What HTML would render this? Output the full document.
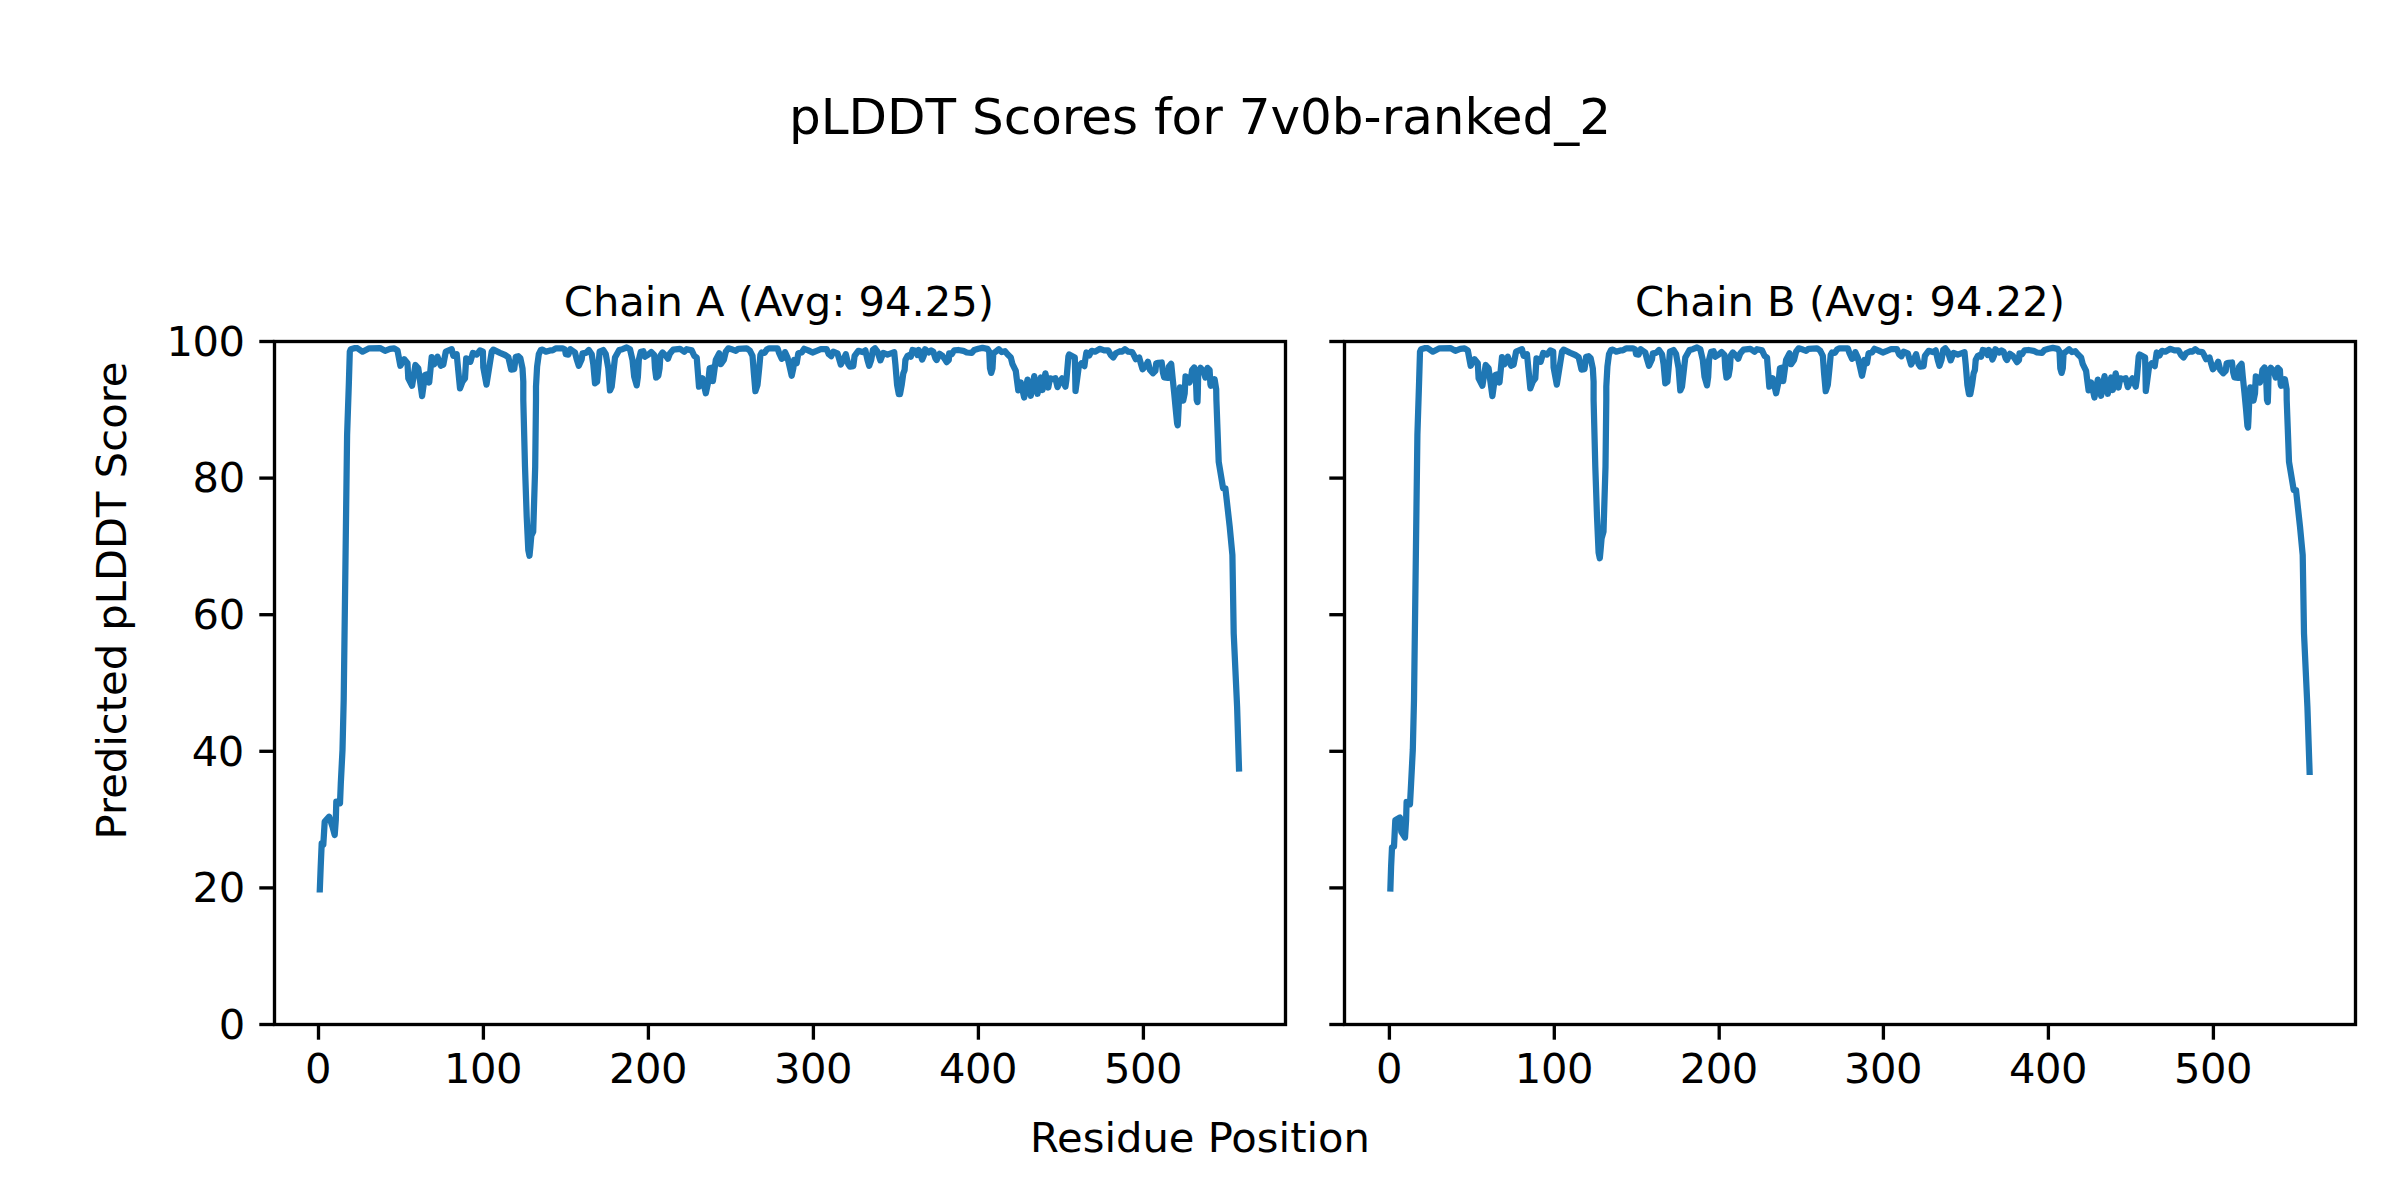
<!DOCTYPE html>
<html lang="en"><head><meta charset="utf-8"><title>pLDDT Scores for 7v0b-ranked_2</title>
<style>
html,body{margin:0;padding:0;background:#fff;}
body{width:2400px;height:1200px;overflow:hidden;}
svg{display:block;}
text{font-family:"DejaVu Sans","Liberation Sans",sans-serif;fill:#000;}
.t10{font-size:41.667px;}
.t12{font-size:50px;}
.tl{letter-spacing:-0.45px;}
.sp{fill:none;stroke:#000;stroke-width:3.333;stroke-linecap:square;stroke-linejoin:miter;}
.tk{stroke:#000;stroke-width:3.333;stroke-linecap:butt;}
.ln{fill:none;stroke:#1f77b4;stroke-width:6.25;stroke-linecap:butt;stroke-linejoin:round;}
</style></head><body>
<svg width="2400" height="1200" viewBox="0 0 2400 1200">
<rect x="0" y="0" width="2400" height="1200" fill="#ffffff"/>
<text class="t12" x="1200" y="134.0" text-anchor="middle">pLDDT Scores for 7v0b-ranked_2</text>
<text class="t10" x="1200" y="1152.0" text-anchor="middle">Residue Position</text>
<text class="t10" transform="translate(126.3,600.5) rotate(-90)" text-anchor="middle">Predicted pLDDT Score</text>
<g>
<text class="t10" x="778.9" y="316.3" text-anchor="middle">Chain A (Avg: 94.25)</text>
<line class="tk" x1="318.50" y1="1024.50" x2="318.50" y2="1039.70"/><text class="t10 tl" x="318.15" y="1083.3" text-anchor="middle">0</text>
<line class="tk" x1="483.40" y1="1024.50" x2="483.40" y2="1039.70"/><text class="t10 tl" x="483.05" y="1083.3" text-anchor="middle">100</text>
<line class="tk" x1="648.40" y1="1024.50" x2="648.40" y2="1039.70"/><text class="t10 tl" x="648.05" y="1083.3" text-anchor="middle">200</text>
<line class="tk" x1="813.40" y1="1024.50" x2="813.40" y2="1039.70"/><text class="t10 tl" x="813.05" y="1083.3" text-anchor="middle">300</text>
<line class="tk" x1="978.40" y1="1024.50" x2="978.40" y2="1039.70"/><text class="t10 tl" x="978.05" y="1083.3" text-anchor="middle">400</text>
<line class="tk" x1="1143.40" y1="1024.50" x2="1143.40" y2="1039.70"/><text class="t10 tl" x="1143.05" y="1083.3" text-anchor="middle">500</text>
<line class="tk" x1="259.30" y1="1024.50" x2="274.50" y2="1024.50"/><text class="t10 tl" x="244.70" y="1038.8" text-anchor="end">0</text>
<line class="tk" x1="259.30" y1="887.90" x2="274.50" y2="887.90"/><text class="t10 tl" x="244.70" y="902.2" text-anchor="end">20</text>
<line class="tk" x1="259.30" y1="751.30" x2="274.50" y2="751.30"/><text class="t10 tl" x="243.80" y="765.6" text-anchor="end">40</text>
<line class="tk" x1="259.30" y1="614.70" x2="274.50" y2="614.70"/><text class="t10 tl" x="244.70" y="629.0" text-anchor="end">60</text>
<line class="tk" x1="259.30" y1="478.10" x2="274.50" y2="478.10"/><text class="t10 tl" x="244.70" y="492.4" text-anchor="end">80</text>
<line class="tk" x1="259.30" y1="341.50" x2="274.50" y2="341.50"/><text class="t10 tl" x="244.70" y="355.8" text-anchor="end">100</text>
<path class="ln" d="M319.7 892.5 L320.7 866.7 L321.7 843.3 L323.3 844.7 L324.7 821.7 L329.2 816.7 L332.5 826.7 L334.7 835.0 L335.8 820.0 L336.3 801.7 L340.0 803.3 L340.8 783.3 L342.5 750.0 L343.7 700.0 L347.1 435.0 L348.8 385.0 L349.8 351.7 L350.8 349.2 L354.2 348.2 L357.5 348.2 L362.5 351.7 L369.2 348.3 L380.0 348.1 L385.0 350.8 L390.0 348.8 L394.2 348.3 L397.5 350.4 L400.4 365.8 L404.2 359.2 L407.5 363.3 L408.3 378.3 L412.1 385.8 L415.4 365.0 L418.3 368.3 L422.1 396.2 L425.0 375.0 L427.5 374.2 L429.2 382.5 L431.7 357.1 L434.2 364.2 L437.5 356.7 L440.8 365.8 L443.3 364.6 L445.8 351.7 L451.7 349.2 L453.3 355.8 L456.7 354.2 L460.0 388.3 L462.5 381.7 L465.0 378.3 L466.2 358.3 L470.4 361.7 L472.9 352.9 L476.7 354.6 L480.0 350.4 L482.9 351.7 L483.3 367.5 L486.5 384.6 L491.7 351.7 L493.3 349.6 L500.0 352.9 L505.0 355.0 L508.3 357.1 L509.6 362.5 L511.2 369.6 L514.2 369.2 L515.8 356.7 L518.3 356.2 L520.4 358.3 L522.5 368.3 L523.3 381.7 L523.3 400.0 L525.0 466.7 L526.7 516.7 L528.3 550.0 L529.5 555.8 L530.3 547.5 L531.3 535.8 L533.2 531.7 L535.2 466.7 L536.0 400.0 L536.0 386.7 L537.1 366.7 L538.8 354.2 L540.8 350.0 L542.5 349.6 L545.8 351.7 L550.0 350.4 L552.5 350.4 L555.8 348.3 L562.5 348.3 L565.0 349.6 L565.8 354.2 L568.3 354.6 L570.4 349.2 L575.0 352.5 L576.7 359.2 L578.8 365.8 L581.7 359.2 L582.5 353.3 L585.8 352.9 L588.8 350.0 L591.7 354.2 L593.3 364.2 L595.0 383.3 L597.1 381.7 L598.3 368.3 L599.6 351.7 L603.3 350.0 L605.8 354.2 L608.3 368.3 L610.0 390.4 L611.7 386.7 L613.3 372.5 L615.0 357.5 L619.2 350.0 L622.5 349.2 L626.7 347.5 L630.0 349.2 L632.5 360.0 L634.2 376.7 L636.7 385.4 L637.9 376.7 L638.8 360.0 L640.8 351.7 L643.3 351.2 L645.0 356.7 L648.3 354.6 L651.2 352.1 L654.2 355.0 L655.0 368.3 L656.2 377.5 L658.3 375.8 L659.6 368.3 L660.4 355.8 L662.5 352.5 L665.8 355.8 L667.9 358.8 L670.0 353.3 L673.3 349.6 L680.0 348.8 L684.2 351.7 L686.7 349.2 L691.7 350.4 L694.2 355.8 L696.7 357.5 L697.9 372.5 L699.0 386.7 L702.5 378.3 L705.8 393.3 L708.3 381.7 L709.6 368.3 L712.5 367.5 L712.9 381.2 L715.8 360.0 L719.2 353.3 L720.8 364.2 L723.8 360.0 L725.8 351.7 L728.3 348.3 L732.5 349.6 L735.8 350.8 L738.3 348.8 L746.7 348.3 L750.0 350.8 L752.5 355.8 L753.8 372.5 L755.4 391.2 L757.5 385.0 L759.2 368.3 L760.4 355.0 L761.7 352.5 L764.6 352.9 L766.7 349.6 L769.2 348.3 L777.5 348.3 L779.2 353.3 L781.7 358.8 L784.2 357.5 L785.0 352.1 L787.5 357.5 L790.0 368.3 L791.7 375.8 L793.3 368.3 L794.2 360.0 L796.7 363.3 L798.3 353.3 L801.7 352.5 L804.2 348.8 L808.3 350.4 L812.5 352.5 L816.7 350.8 L820.8 349.2 L826.7 349.2 L828.8 354.2 L831.2 356.2 L833.3 351.7 L837.5 353.3 L840.8 364.6 L843.3 360.0 L845.8 354.2 L848.3 364.2 L850.0 366.7 L853.3 366.2 L854.6 355.8 L858.3 350.8 L862.5 352.1 L865.4 350.4 L867.5 360.0 L869.2 365.8 L871.2 360.0 L872.9 350.0 L875.0 348.3 L877.5 351.7 L880.4 360.4 L883.3 352.9 L887.5 354.6 L894.2 352.1 L895.4 364.2 L897.1 385.0 L898.8 394.2 L900.0 394.2 L901.7 385.0 L903.3 373.3 L904.6 370.0 L905.4 360.0 L907.5 355.8 L909.6 355.0 L910.8 356.7 L912.5 350.0 L915.4 350.8 L917.5 355.0 L918.8 350.0 L920.8 355.8 L922.1 359.6 L923.8 355.8 L925.0 349.2 L928.8 352.5 L931.2 350.4 L933.3 351.7 L935.4 358.3 L936.7 360.0 L939.6 353.8 L942.5 355.8 L945.4 360.0 L946.7 362.1 L948.8 360.0 L949.2 353.3 L951.7 354.2 L954.2 350.4 L958.3 350.0 L963.3 350.8 L966.7 352.5 L971.7 352.9 L974.2 350.0 L978.3 348.8 L982.5 347.9 L987.5 348.8 L989.2 351.7 L990.0 368.3 L991.2 372.9 L992.5 368.3 L993.3 353.3 L995.8 351.7 L998.8 349.2 L1001.7 352.1 L1005.0 351.2 L1007.5 354.2 L1010.8 357.5 L1012.5 364.2 L1015.8 370.8 L1016.7 378.3 L1018.3 390.4 L1020.8 382.5 L1024.2 397.5 L1027.5 379.6 L1030.8 395.8 L1034.2 376.2 L1037.5 393.8 L1040.8 377.5 L1042.5 390.0 L1045.4 373.3 L1048.3 387.5 L1050.0 378.3 L1052.5 379.2 L1055.4 378.3 L1057.5 387.1 L1060.0 381.7 L1062.1 378.3 L1065.4 386.7 L1066.4 380.0 L1068.4 356.5 L1069.2 354.5 L1074.8 357.5 L1075.2 375.0 L1075.5 391.0 L1077.0 380.0 L1078.8 366.5 L1081.5 363.2 L1084.4 366.2 L1085.2 360.0 L1086.4 352.5 L1089.2 355.4 L1091.7 350.8 L1095.0 351.7 L1100.0 348.8 L1104.2 350.4 L1108.3 350.4 L1110.8 355.0 L1113.3 357.5 L1115.8 353.3 L1120.0 351.2 L1122.1 351.7 L1125.0 349.2 L1128.3 351.7 L1132.1 352.1 L1134.2 355.8 L1135.8 359.2 L1139.2 357.5 L1140.8 363.3 L1142.5 369.2 L1145.8 365.8 L1147.9 361.7 L1150.0 370.0 L1152.9 373.3 L1155.4 370.8 L1156.2 363.3 L1158.3 362.9 L1161.7 362.5 L1162.9 372.5 L1164.2 377.5 L1167.9 377.9 L1168.8 366.7 L1171.2 363.8 L1172.5 376.7 L1174.2 393.3 L1175.8 410.0 L1177.1 423.3 L1177.7 425.2 L1178.1 418.3 L1178.9 401.7 L1180.0 387.3 L1182.3 388.2 L1183.2 400.7 L1184.7 393.3 L1185.5 376.4 L1188.3 378.3 L1189.6 382.5 L1191.2 376.7 L1192.1 370.0 L1194.2 367.5 L1195.8 376.7 L1196.7 400.0 L1197.5 402.1 L1197.8 393.3 L1198.2 372.5 L1200.5 367.8 L1203.3 370.8 L1205.4 377.5 L1207.5 367.9 L1209.6 370.0 L1210.4 384.2 L1210.8 385.8 L1213.3 385.0 L1214.6 379.2 L1216.2 389.2 L1216.4 400.0 L1218.7 461.7 L1223.1 488.3 L1225.4 488.3 L1229.7 526.7 L1232.4 555.0 L1233.7 633.3 L1237.1 706.7 L1239.1 771.7"/>
<rect class="sp" x="274.50" y="341.50" width="1011.00" height="683.00"/>
</g>
<g>
<text class="t10" x="1850.0" y="316.3" text-anchor="middle">Chain B (Avg: 94.22)</text>
<line class="tk" x1="1389.40" y1="1024.50" x2="1389.40" y2="1039.70"/><text class="t10 tl" x="1389.05" y="1083.3" text-anchor="middle">0</text>
<line class="tk" x1="1554.30" y1="1024.50" x2="1554.30" y2="1039.70"/><text class="t10 tl" x="1553.95" y="1083.3" text-anchor="middle">100</text>
<line class="tk" x1="1719.20" y1="1024.50" x2="1719.20" y2="1039.70"/><text class="t10 tl" x="1718.85" y="1083.3" text-anchor="middle">200</text>
<line class="tk" x1="1883.40" y1="1024.50" x2="1883.40" y2="1039.70"/><text class="t10 tl" x="1883.05" y="1083.3" text-anchor="middle">300</text>
<line class="tk" x1="2048.40" y1="1024.50" x2="2048.40" y2="1039.70"/><text class="t10 tl" x="2048.05" y="1083.3" text-anchor="middle">400</text>
<line class="tk" x1="2213.40" y1="1024.50" x2="2213.40" y2="1039.70"/><text class="t10 tl" x="2213.05" y="1083.3" text-anchor="middle">500</text>
<line class="tk" x1="1329.30" y1="1024.50" x2="1344.50" y2="1024.50"/><line class="tk" x1="1329.30" y1="887.90" x2="1344.50" y2="887.90"/><line class="tk" x1="1329.30" y1="751.30" x2="1344.50" y2="751.30"/><line class="tk" x1="1329.30" y1="614.70" x2="1344.50" y2="614.70"/><line class="tk" x1="1329.30" y1="478.10" x2="1344.50" y2="478.10"/><line class="tk" x1="1329.30" y1="341.50" x2="1344.50" y2="341.50"/><path class="ln" d="M1390.3 891.7 L1391.1 866.7 L1392.0 847.5 L1394.0 846.7 L1395.3 820.3 L1400.0 817.5 L1401.3 831.7 L1405.0 837.5 L1406.1 820.0 L1406.6 802.0 L1410.0 804.2 L1411.1 783.3 L1412.8 750.0 L1414.0 700.0 L1417.4 435.0 L1419.0 385.0 L1420.0 351.7 L1421.1 349.2 L1424.5 348.2 L1427.8 348.2 L1432.8 351.7 L1439.5 348.3 L1450.3 348.1 L1455.3 350.8 L1460.3 348.8 L1464.5 348.3 L1467.8 350.4 L1470.7 365.8 L1474.5 359.2 L1477.8 363.3 L1478.6 378.3 L1482.4 385.8 L1485.7 365.0 L1488.6 368.3 L1492.4 396.2 L1495.3 375.0 L1497.8 374.2 L1499.5 382.5 L1502.0 357.1 L1504.5 364.2 L1507.8 356.7 L1511.1 365.8 L1513.6 364.6 L1516.1 351.7 L1522.0 349.2 L1523.6 355.8 L1527.0 354.2 L1530.3 388.3 L1532.8 381.7 L1535.3 378.3 L1536.5 358.3 L1540.7 361.7 L1543.2 352.9 L1547.0 354.6 L1550.3 350.4 L1553.2 351.7 L1553.6 367.5 L1556.8 384.6 L1562.0 351.7 L1563.6 349.6 L1570.3 352.9 L1575.3 355.0 L1578.6 357.1 L1579.9 362.5 L1581.5 369.6 L1584.5 369.2 L1586.1 356.7 L1588.6 356.2 L1590.7 358.3 L1592.8 368.3 L1593.6 381.7 L1593.6 400.0 L1595.3 466.7 L1597.0 516.7 L1598.6 552.5 L1599.8 558.3 L1600.6 550.0 L1601.6 538.3 L1603.5 531.7 L1605.5 466.7 L1606.3 400.0 L1606.3 386.7 L1607.4 366.7 L1609.0 354.2 L1611.1 350.0 L1612.8 349.6 L1616.1 351.7 L1620.3 350.4 L1622.8 350.4 L1626.1 348.3 L1632.8 348.3 L1635.3 349.6 L1636.1 354.2 L1638.6 354.6 L1640.7 349.2 L1645.3 352.5 L1647.0 359.2 L1649.0 365.8 L1652.0 359.2 L1652.8 353.3 L1656.1 352.9 L1659.0 350.0 L1662.0 354.2 L1663.6 364.2 L1665.3 383.3 L1667.4 381.7 L1668.6 368.3 L1669.9 351.7 L1673.6 350.0 L1676.1 354.2 L1678.6 368.3 L1680.3 390.4 L1682.0 386.7 L1683.6 372.5 L1685.3 357.5 L1689.5 350.0 L1692.8 349.2 L1697.0 347.5 L1700.3 349.2 L1702.8 360.0 L1704.5 376.7 L1707.0 385.4 L1708.2 376.7 L1709.0 360.0 L1711.1 351.7 L1713.6 351.2 L1715.3 356.7 L1718.6 354.6 L1721.5 352.1 L1724.5 355.0 L1725.3 368.3 L1726.5 377.5 L1728.6 375.8 L1729.9 368.3 L1730.7 355.8 L1732.8 352.5 L1736.1 355.8 L1738.2 358.8 L1740.3 353.3 L1743.6 349.6 L1750.3 348.8 L1754.5 351.7 L1757.0 349.2 L1762.0 350.4 L1764.5 355.8 L1767.0 357.5 L1768.2 372.5 L1769.3 386.7 L1772.8 378.3 L1776.1 393.3 L1778.6 381.7 L1779.9 368.3 L1782.8 367.5 L1783.2 381.2 L1786.1 360.0 L1789.5 353.3 L1791.1 364.2 L1794.0 360.0 L1796.1 351.7 L1798.6 348.3 L1802.8 349.6 L1806.1 350.8 L1808.6 348.8 L1817.0 348.3 L1820.3 350.8 L1822.8 355.8 L1824.0 372.5 L1825.7 391.2 L1827.8 385.0 L1829.5 368.3 L1830.7 355.0 L1832.0 352.5 L1834.9 352.9 L1837.0 349.6 L1839.5 348.3 L1847.8 348.3 L1849.5 353.3 L1852.0 358.8 L1854.5 357.5 L1855.3 352.1 L1857.8 357.5 L1860.3 368.3 L1862.0 375.8 L1863.6 368.3 L1864.5 360.0 L1867.0 363.3 L1868.6 353.3 L1872.0 352.5 L1874.5 348.8 L1878.6 350.4 L1882.8 352.5 L1887.0 350.8 L1891.1 349.2 L1897.0 349.2 L1899.0 354.2 L1901.5 356.2 L1903.6 351.7 L1907.8 353.3 L1911.1 364.6 L1913.6 360.0 L1916.1 354.2 L1918.6 364.2 L1920.3 366.7 L1923.6 366.2 L1924.9 355.8 L1928.6 350.8 L1932.8 352.1 L1935.7 350.4 L1937.8 360.0 L1939.5 365.8 L1941.5 360.0 L1943.2 350.0 L1945.3 348.3 L1947.8 351.7 L1950.7 360.4 L1953.6 352.9 L1957.8 354.6 L1964.5 352.1 L1965.7 364.2 L1967.4 385.0 L1969.0 394.2 L1970.3 394.2 L1972.0 385.0 L1973.6 373.3 L1974.9 370.0 L1975.7 360.0 L1977.8 355.8 L1979.9 355.0 L1981.1 356.7 L1982.8 350.0 L1985.7 350.8 L1987.8 355.0 L1989.0 350.0 L1991.1 355.8 L1992.4 359.6 L1994.0 355.8 L1995.3 349.2 L1999.0 352.5 L2001.5 350.4 L2003.6 351.7 L2005.7 358.3 L2007.0 360.0 L2009.9 353.8 L2012.8 355.8 L2015.7 360.0 L2017.0 362.1 L2019.0 360.0 L2019.5 353.3 L2022.0 354.2 L2024.5 350.4 L2028.6 350.0 L2033.6 350.8 L2037.0 352.5 L2042.0 352.9 L2044.5 350.0 L2048.6 348.8 L2052.8 347.9 L2057.8 348.8 L2059.5 351.7 L2060.3 368.3 L2061.6 372.9 L2062.8 368.3 L2063.6 353.3 L2066.1 351.7 L2069.1 349.2 L2072.0 352.1 L2075.3 351.2 L2077.8 354.2 L2081.1 357.5 L2082.8 364.2 L2086.1 370.8 L2087.0 378.3 L2088.6 390.4 L2091.1 382.5 L2094.5 397.5 L2097.8 379.6 L2101.1 395.8 L2104.5 376.2 L2107.8 393.8 L2111.1 377.5 L2112.8 390.0 L2115.7 373.3 L2118.6 387.5 L2120.3 378.3 L2122.8 379.2 L2125.7 378.3 L2127.8 387.1 L2130.3 381.7 L2132.4 378.3 L2135.7 386.7 L2136.7 380.0 L2138.7 356.5 L2139.6 354.5 L2145.1 357.5 L2145.5 375.0 L2145.8 391.0 L2147.3 380.0 L2149.1 366.5 L2151.8 363.2 L2154.7 366.2 L2155.6 360.0 L2156.7 352.5 L2159.5 355.4 L2162.0 350.8 L2165.3 351.7 L2170.3 348.8 L2174.5 350.4 L2178.6 350.4 L2181.1 355.0 L2183.6 357.5 L2186.1 353.3 L2190.3 351.2 L2192.4 351.7 L2195.3 349.2 L2198.6 351.7 L2202.4 352.1 L2204.5 355.8 L2206.1 359.2 L2209.5 357.5 L2211.1 363.3 L2212.8 369.2 L2216.1 365.8 L2218.2 361.7 L2220.3 370.0 L2223.2 373.3 L2225.7 370.8 L2226.6 363.3 L2228.6 362.9 L2232.0 362.5 L2233.2 372.5 L2234.5 377.5 L2238.2 377.9 L2239.1 366.7 L2241.6 363.8 L2242.8 376.7 L2244.5 393.3 L2246.1 410.0 L2247.4 425.7 L2248.0 427.5 L2248.4 420.7 L2249.2 401.7 L2250.3 387.3 L2252.6 388.2 L2253.5 400.7 L2255.0 393.3 L2255.8 376.4 L2258.6 378.3 L2259.9 382.5 L2261.6 376.7 L2262.4 370.0 L2264.5 367.5 L2266.1 376.7 L2267.0 400.0 L2267.8 402.1 L2268.1 393.3 L2268.6 372.5 L2270.8 367.8 L2273.6 370.8 L2275.7 377.5 L2277.8 367.9 L2279.9 370.0 L2280.7 384.2 L2281.1 385.8 L2283.6 385.0 L2284.9 379.2 L2286.6 389.2 L2286.7 400.0 L2289.0 461.7 L2293.7 490.0 L2296.0 490.0 L2300.0 526.7 L2302.7 555.0 L2304.0 633.3 L2307.4 706.7 L2309.7 775.0"/>
<rect class="sp" x="1344.50" y="341.50" width="1011.00" height="683.00"/>
</g>
</svg>
</body></html>
